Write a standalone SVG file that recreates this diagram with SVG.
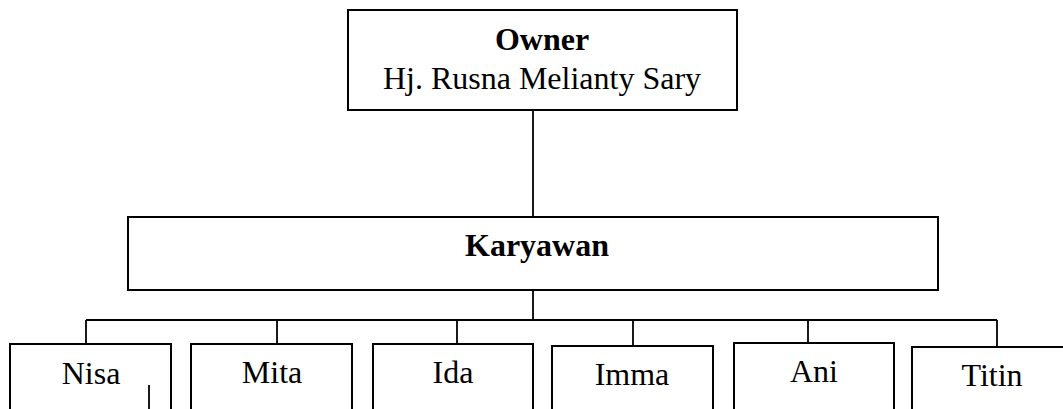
<svg xmlns="http://www.w3.org/2000/svg" width="1063" height="409" viewBox="0 0 1063 409">
<style>
.box{fill:#fff;stroke:#000;stroke-width:2}
.ln{stroke:#000;stroke-width:1.8;fill:none}
.t{font-family:"Liberation Serif","Times New Roman",serif;font-size:32px;fill:#000;text-anchor:middle}
.b{font-weight:bold}
</style>
<rect width="1063" height="409" fill="#fff"/>
<g id="connectors">
<line class="ln" x1="533" y1="110" x2="533" y2="217"/>
<line class="ln" x1="533" y1="290" x2="533" y2="320"/>
<line class="ln" x1="86" y1="320" x2="997" y2="320"/>
<line class="ln" x1="86" y1="320" x2="86" y2="344"/>
<line class="ln" x1="277" y1="320" x2="277" y2="344"/>
<line class="ln" x1="457" y1="320" x2="457" y2="344"/>
<line class="ln" x1="633" y1="320" x2="633" y2="346"/>
<line class="ln" x1="808" y1="320" x2="808" y2="343"/>
<line class="ln" x1="997" y1="320" x2="997" y2="347"/>
</g>
<g id="owner">
<rect class="box" x="348" y="10" width="389" height="100"/>
<text class="t b" x="542" y="50">Owner</text>
<text class="t" x="542" y="89">Hj. Rusna Melianty Sary</text>
</g>
<g id="karyawan">
<rect class="box" x="128" y="217" width="810" height="73"/>
<text class="t b" x="537" y="256">Karyawan</text>
</g>
<g id="nisa">
<rect class="box" x="10" y="344" width="161" height="80"/>
<text class="t" x="91" y="384">Nisa</text>
<line class="ln" x1="149" y1="385" x2="149" y2="409"/>
</g>
<g id="mita">
<rect class="box" x="191" y="344" width="161" height="80"/>
<text class="t" x="272" y="383">Mita</text>
</g>
<g id="ida">
<rect class="box" x="373" y="344" width="160" height="80"/>
<text class="t" x="453" y="383">Ida</text>
</g>
<g id="imma">
<rect class="box" x="552" y="346" width="161" height="80"/>
<text class="t" x="632" y="385">Imma</text>
</g>
<g id="ani">
<rect class="box" x="734" y="343" width="160" height="80"/>
<text class="t" x="814" y="382">Ani</text>
</g>
<g id="titin">
<rect class="box" x="912" y="347" width="170" height="80"/>
<text class="t" x="992" y="386">Titin</text>
</g>
</svg>
